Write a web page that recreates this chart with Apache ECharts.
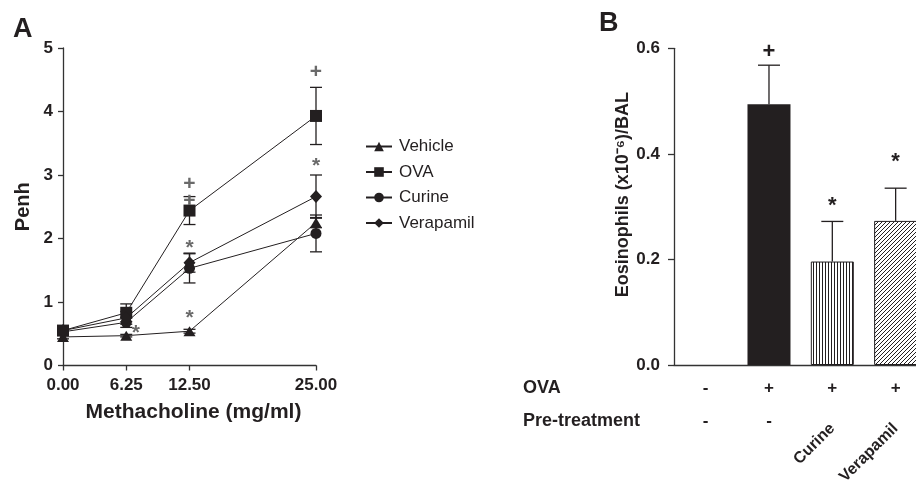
<!DOCTYPE html>
<html><head><meta charset="utf-8">
<script src="https://cdn.jsdelivr.net/npm/echarts@6/dist/echarts.min.js"></script>
<style>html,body{margin:0;padding:0;background:#fff}#c{width:916px;height:490px}</style>
</head><body><div id="c"></div>
<script>
// ---------- Panel A data ----------
const doses = [0, 6.25, 12.5, 25];
const doseTickLabels = ['0.00', '6.25', '12.50', '25.00'];
const seriesNames = ['Vehicle', 'OVA', 'Curine', 'Verapamil'];
const vehicle = [0.45, 0.47, 0.54, 2.25];
const ova = [0.55, 0.83, 2.44, 3.93];
const curine = [0.53, 0.68, 1.53, 2.08];
const verapamil = [0.55, 0.75, 1.62, 2.66];
const vehicleSem = [0.03, 0.02, 0.03, 0.08];
const ovaSem = [0.05, 0.14, 0.22, 0.45];
const curineSem = [0.04, 0.08, 0.23, 0.29];
const verapamilSem = [0.04, 0.10, 0.15, 0.34];
const markA_x = [25, 25, 12.5, 12.5, 12.5, 12.5, 7.2];
const markA_y = [4.62, 3.22, 2.86, 2.58, 1.93, 0.83, 0.58];
const markA_t = ['+', '*', '+', '+', '*', '*', '*'];

// ---------- Panel B data ----------
const groups = ['Vehicle', 'OVA', 'Curine', 'Verapamil'];
const ovaRow = ['-', '+', '+', '+'];
const pretreatRow = ['-', '-', '', ''];
const pretreatNames = ['', '', 'Curine', 'Verapamil'];
const eos = [0, 0.494, 0.196, 0.273];
const eosSem = [0, 0.074, 0.076, 0.062];
const markB_t = ['', '+', '*', '*'];
const markB_y = [0, 0.593, 0.31, 0.395];

const FONT = '"Liberation Sans", Arial, Helvetica, sans-serif';
const INK = '#231f20';
const GRAY = '#6a6a6a';

function pattern(kind) {
  const c = document.createElement('canvas');
  const ctx = c.getContext('2d');
  if (kind === 'v') {
    c.width = 3; c.height = 4;
    ctx.fillStyle = '#fff'; ctx.fillRect(0, 0, 3, 4);
    ctx.fillStyle = INK; ctx.fillRect(0, 0, 1, 4);
  } else {
    c.width = 4; c.height = 4;
    ctx.fillStyle = '#fff'; ctx.fillRect(0, 0, 4, 4);
    ctx.fillStyle = INK;
    for (let i = 0; i < 4; i++) ctx.fillRect(i, 3 - i, 1, 1);
  }
  return {image: c, repeat: 'repeat'};
}

const chart = echarts.init(document.getElementById('c'), null, {renderer: 'canvas'});
const symbols = ['triangle', 'rect', 'circle', 'diamond'];
const symSizes = [[12, 10], 12, 11, [12, 13]];
const vals = [vehicle, ova, curine, verapamil];
const sems = [vehicleSem, ovaSem, curineSem, verapamilSem];

const series = [];
vals.forEach((v, si) => {
  series.push({
    type: 'custom', xAxisIndex: 0, yAxisIndex: 0, silent: true, z: 1,
    data: doses.map((d, i) => [d, v[i] - sems[si][i], v[i] + sems[si][i]]),
    renderItem: function (params, api) {
      const lo = api.coord([api.value(0), api.value(1)]);
      const hi = api.coord([api.value(0), api.value(2)]);
      const w = 6;
      const st = {stroke: INK, lineWidth: 1.3};
      return {type: 'group', children: [
        {type: 'line', shape: {x1: lo[0], y1: lo[1], x2: hi[0], y2: hi[1]}, style: st},
        {type: 'line', shape: {x1: lo[0] - w, y1: lo[1], x2: lo[0] + w, y2: lo[1]}, style: st},
        {type: 'line', shape: {x1: hi[0] - w, y1: hi[1], x2: hi[0] + w, y2: hi[1]}, style: st}
      ]};
    }
  });
});
vals.forEach((v, si) => {
  series.push({
    name: seriesNames[si], type: 'line', xAxisIndex: 0, yAxisIndex: 0, z: 3,
    data: doses.map((d, i) => [d, v[i]]),
    symbol: symbols[si], symbolSize: symSizes[si], showSymbol: true, clip: false,
    lineStyle: {color: INK, width: 1}, itemStyle: {color: INK},
    emphasis: {disabled: true}, animation: false
  });
});
series.push({
  type: 'custom', xAxisIndex: 0, yAxisIndex: 0, silent: true, z: 5,
  data: markA_x.map((x, i) => [x, markA_y[i], i]),
  renderItem: function (params, api) {
    const p = api.coord([api.value(0), api.value(1)]);
    const t = markA_t[api.value(2)];
    const star = t === '*';
    return {type: 'text', x: p[0], y: p[1] + (star ? 5 : 0), style: {
      text: t, fill: GRAY, font: 'bold 21px ' + FONT,
      align: 'center', verticalAlign: 'middle'}};
  }
});

const barColors = [INK, INK, pattern('v'), pattern('d')];
series.push({
  type: 'bar', xAxisIndex: 1, yAxisIndex: 1, barWidth: 43, z: 2,
  data: eos.map((v, i) => ({value: v, itemStyle: {color: barColors[i], borderColor: INK, borderWidth: i > 1 ? 1 : 0}})),
  animation: false, emphasis: {disabled: true}
});
series.push({
  type: 'custom', xAxisIndex: 1, yAxisIndex: 1, silent: true, z: 1,
  data: groups.map((g, i) => [i, eos[i], eos[i] + eosSem[i]]),
  renderItem: function (params, api) {
    if (api.value(2) - api.value(1) <= 0) return null;
    const lo = api.coord([api.value(0), api.value(1)]);
    const hi = api.coord([api.value(0), api.value(2)]);
    const w = 11;
    const st = {stroke: INK, lineWidth: 1.3};
    return {type: 'group', children: [
      {type: 'line', shape: {x1: lo[0], y1: lo[1], x2: hi[0], y2: hi[1]}, style: st},
      {type: 'line', shape: {x1: hi[0] - w, y1: hi[1], x2: hi[0] + w, y2: hi[1]}, style: st}
    ]};
  }
});
series.push({
  type: 'custom', xAxisIndex: 1, yAxisIndex: 1, silent: true, z: 5,
  data: groups.map((g, i) => [i, markB_y[i], i]),
  renderItem: function (params, api) {
    const t = markB_t[api.value(2)];
    if (!t) return null;
    const p = api.coord([api.value(0), api.value(1)]);
    const star = t === '*';
    return {type: 'text', x: p[0], y: p[1] + (star ? 5 : 0), style: {
      text: t, fill: INK, font: 'bold 22px ' + FONT, align: 'center', verticalAlign: 'middle'}};
  }
});

const axisLineStyle = {color: '#333', width: 1.3};
const tickLabel = {color: INK, fontFamily: FONT, fontWeight: 'bold', fontSize: 17};

chart.setOption({
  animation: false,
  textStyle: {fontFamily: FONT},
  title: [
    {text: 'A', left: 8, top: 11, textStyle: {fontFamily: FONT, fontSize: 27, fontWeight: 'bold', color: INK}},
    {text: 'B', left: 594, top: 5, textStyle: {fontFamily: FONT, fontSize: 27, fontWeight: 'bold', color: INK}}
  ],
  legend: {
    orient: 'vertical', left: 360, top: 133, itemWidth: 26, itemHeight: 12, itemGap: 8.5,
    data: seriesNames, selectedMode: false,
    textStyle: {fontFamily: FONT, fontSize: 17, color: INK, padding: [0, 0, 0, 2]}
  },
  grid: [
    {left: 63, top: 48, width: 253, height: 317.5, outerBoundsMode: 'none'},
    {left: 674, top: 48.3, width: 253.3, height: 316.7, outerBoundsMode: 'none'}
  ],
  xAxis: [
    {type: 'value', gridIndex: 0, min: 0, max: 25, splitLine: {show: false},
     axisLine: {lineStyle: axisLineStyle},
     axisTick: {customValues: doses, length: 5, lineStyle: axisLineStyle},
     axisLabel: Object.assign({customValues: doses, margin: 11,
       formatter: v => doseTickLabels[doses.indexOf(v)]}, tickLabel),
     name: 'Methacholine (mg/ml)', nameLocation: 'middle', nameGap: 36,
     nameTextStyle: {fontFamily: FONT, fontWeight: 'bold', fontSize: 21, color: INK, padding: [0, 0, 0, 8]}},
    {type: 'category', gridIndex: 1, data: ovaRow, position: 'bottom',
     axisLine: {lineStyle: axisLineStyle},
     axisTick: {alignWithLabel: true, length: 5, lineStyle: axisLineStyle},
     axisLabel: Object.assign({margin: 15, interval: 0}, tickLabel)},
    {type: 'category', gridIndex: 1, data: pretreatRow, position: 'bottom', offset: 0,
     axisLine: {show: false}, axisTick: {show: false},
     axisLabel: Object.assign({margin: 48, interval: 0}, tickLabel)},
    {type: 'category', gridIndex: 1, data: pretreatNames, position: 'bottom', offset: 0,
     axisLine: {show: false}, axisTick: {show: false},
     axisLabel: Object.assign({margin: 61, interval: 0, rotate: 45}, tickLabel, {fontSize: 16})}
  ],
  yAxis: [
    {type: 'value', gridIndex: 0, min: 0, max: 5, interval: 1, splitLine: {show: false},
     axisLine: {show: true, lineStyle: axisLineStyle},
     axisTick: {show: true, length: 5, lineStyle: axisLineStyle},
     axisLabel: Object.assign({margin: 10}, tickLabel),
     name: 'Penh', nameLocation: 'middle', nameGap: 30,
     nameTextStyle: {fontFamily: FONT, fontWeight: 'bold', fontSize: 20, color: INK}},
    {type: 'value', gridIndex: 1, min: 0, max: 0.6, interval: 0.2, splitLine: {show: false},
     axisLine: {show: true, lineStyle: axisLineStyle},
     axisTick: {show: true, length: 6, lineStyle: axisLineStyle},
     axisLabel: Object.assign({margin: 14, formatter: v => v.toFixed(1)}, tickLabel),
     name: 'Eosinophils (x10⁻⁶)/BAL', nameLocation: 'middle', nameGap: 38,
     nameTextStyle: {fontFamily: FONT, fontWeight: 'bold', fontSize: 18, color: INK, padding: [0, 0, 0, 24]}}
  ],
  graphic: [
    {type: 'text', left: 523, top: 379, style: {text: 'OVA', font: 'bold 18px ' + FONT, fill: INK}},
    {type: 'text', left: 523, top: 412.5, style: {text: 'Pre-treatment', font: 'bold 18px ' + FONT, fill: INK}}
  ],
  series: series
});
</script></body></html>
